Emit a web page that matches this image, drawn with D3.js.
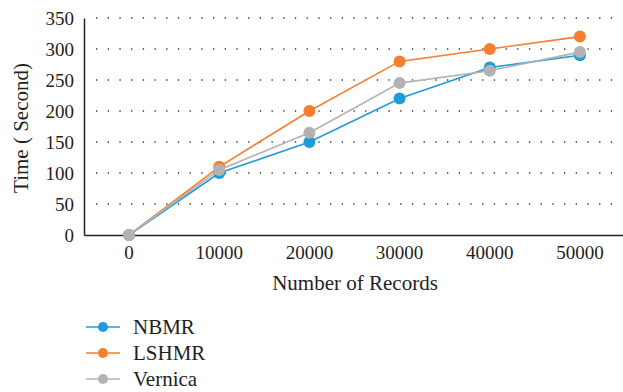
<!DOCTYPE html>
<html><head><meta charset="utf-8">
<script src="https://cdn.jsdelivr.net/npm/d3@7"></script>
<style>body{margin:0;background:#fff}svg{display:block}text{font-family:"Liberation Serif","Times New Roman",serif;fill:#231f20}</style>
</head><body><svg id="c" width="623" height="392"></svg>
<script>
const categories = ["0","10000","20000","30000","40000","50000"];
const seriesNames = ["NBMR","LSHMR","Vernica"];
const nbmr = [0,100,150,220,270,290];
const lshmr = [0,110,200,280,300,320];
const vernica = [0,105,165,245,265,295];
const yTicks = [0,50,100,150,200,250,300,350];
const colors = ["#1f9bdb","#f57f2f","#b2b2b4"];

const series = [nbmr, lshmr, vernica];
const svg = d3.select("#c");
const L = 84, R = 625, T = 18, B = 235;
const x = d3.scaleBand().domain(categories).range([L, R]);
const y = d3.scaleLinear().domain([0,350]).range([B, T]);

// gridlines
svg.append("g").selectAll("line").data(yTicks.filter(d=>d>0)).join("line")
  .attr("x1", 96).attr("x2", 616)
  .attr("y1", d=>y(d)).attr("y2", d=>y(d))
  .attr("stroke","#333").attr("stroke-width",1.3).attr("stroke-dasharray","1.3,10.4");

// axes
const ya = d3.axisLeft(y).tickValues(yTicks).tickSize(0).tickPadding(10);
const yg = svg.append("g").attr("transform",`translate(${L},0)`).call(ya);
yg.select(".domain").attr("stroke","#231f20").attr("stroke-width",1.5);
yg.selectAll("text").attr("font-size",19).style("font-family","Liberation Serif").attr("dy","0.35em");

const xa = d3.axisBottom(x).tickSize(0).tickPadding(11);
const xg = svg.append("g").attr("transform",`translate(0,${B})`).call(xa);
xg.select(".domain").attr("stroke","#231f20").attr("stroke-width",1.5);
xg.selectAll("text").attr("font-size",19).style("font-family","Liberation Serif");

svg.append("text").attr("x",355).attr("y",290).attr("text-anchor","middle").attr("font-size",21).text("Number of Records");
svg.append("text").attr("transform","translate(28,128) rotate(-90)").attr("text-anchor","middle").attr("font-size",21).text("Time ( Second)");

const line = d3.line().x((d,i)=>x(categories[i])+x.bandwidth()/2).y(d=>y(d));
series.forEach((s,k)=>{
  const g = svg.append("g");
  g.append("path").attr("d",line(s)).attr("fill","none").attr("stroke",colors[k]).attr("stroke-width",1.6);
  g.selectAll("circle").data(s).join("circle")
    .attr("cx",(d,i)=>x(categories[i])+x.bandwidth()/2).attr("cy",d=>y(d)).attr("r",6).attr("fill",colors[k]);
});

// legend
const lg = svg.append("g");
seriesNames.forEach((n,k)=>{
  const yy = 327 + k*26;
  lg.append("line").attr("x1",86).attr("x2",120).attr("y1",yy).attr("y2",yy).attr("stroke",colors[k]).attr("stroke-width",1.6);
  lg.append("circle").attr("cx",103).attr("cy",yy).attr("r",5).attr("fill",colors[k]);
  lg.append("text").attr("x",133).attr("y",yy).attr("dy","0.35em").attr("font-size",21).text(n);
});
</script></body></html>
